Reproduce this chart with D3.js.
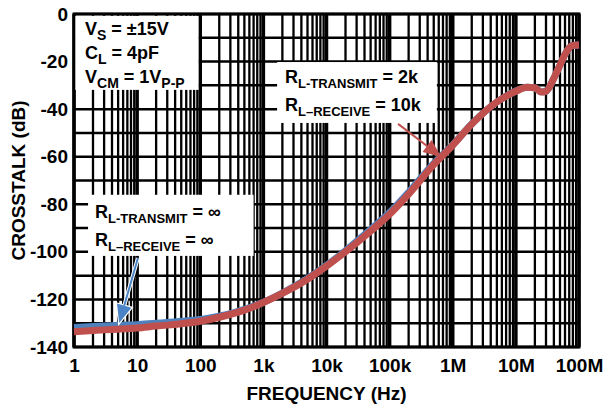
<!DOCTYPE html>
<html>
<head>
<meta charset="utf-8">
<script src="https://cdn.jsdelivr.net/npm/d3@7"></script>
<style>
  html, body { margin: 0; padding: 0; background: #fff; }
  svg { display: block; font-family: "Liberation Sans", Arial, Helvetica, sans-serif; font-weight: bold; }
</style>
</head>
<body>
<svg id="chart" width="603" height="407"></svg>
<script>
// Crosstalk vs. frequency, two load conditions
const freqHz = [1, 2, 3, 5, 10, 20, 30, 50, 100, 200, 300, 500,
  1e3, 2e3, 5e3, 1e4, 2e4, 5e4, 1e5, 2e5, 5e5, 1e6, 2e6, 5e6,
  1e7, 1.5e7, 2e7, 2.5e7, 3e7, 4e7, 5e7, 6e7, 7e7, 8e7, 1e8];

// R_L-TRANSMIT = ∞, R_L-RECEIVE = ∞
const crosstalkOpen = [-131.8, -131.4, -131.2, -130.9, -130.6, -130.0, -129.7, -129.2,
  -128.4, -127.0, -126.0, -124.2, -121.2, -117.3, -111.2, -105.7, -99.5, -90.6,
  -83.5, -75.0, -62.8, -55.0, -46.2, -37.0, -32.4, -30.8, -31.0, -32.7, -32.4,
  -27.0, -21.5, -17.0, -14.2, -13.2, -13.0];

// R_L-TRANSMIT = 2k, R_L-RECEIVE = 10k
const crosstalkLoaded = [-133.6, -133.1, -132.8, -132.5, -132.0, -131.2, -130.8, -130.2,
  -129.2, -127.5, -126.3, -124.5, -121.3, -117.5, -111.5, -106.0, -100.0, -91.3,
  -84.2, -75.7, -63.3, -55.2, -46.3, -37.0, -32.5, -30.8, -31.0, -32.8, -32.5,
  -27.0, -21.5, -17.0, -14.2, -13.2, -13.0];

const xTickValues = [1, 10, 100, 1e3, 1e4, 1e5, 1e6, 1e7, 1e8];
const xTickLabels = ["1", "10", "100", "1k", "10k", "100k", "1M", "10M", "100M"];
const yTickValues = [0, -20, -40, -60, -80, -100, -120, -140];

const svg = d3.select("#chart");
const plot = { left: 74, right: 579, top: 14, bottom: 347 };
const FONT = "Liberation Sans, Arial, sans-serif";

const x = d3.scaleLog().domain([1, 1e8]).range([plot.left, plot.right]);
const y = d3.scaleLinear().domain([-140, 0]).range([plot.bottom, plot.top]);

// vertical grid: 1..9 per decade
const minorX = [];
for (let e = 0; e < 8; e++) for (let m = 2; m <= 9; m++) minorX.push(m * Math.pow(10, e));
const gGrid = svg.append("g");
gGrid.selectAll("line.vminor").data(minorX).join("line")
  .attr("x1", d => x(d)).attr("x2", d => x(d))
  .attr("y1", plot.top).attr("y2", plot.bottom)
  .attr("stroke", "#000").attr("stroke-width", 2.3);
gGrid.selectAll("line.vmajor").data(xTickValues).join("line")
  .attr("x1", d => x(d)).attr("x2", d => x(d))
  .attr("y1", plot.top).attr("y2", plot.bottom)
  .attr("stroke", "#000").attr("stroke-width", 3.5);
gGrid.selectAll("line.h").data(d3.range(-140, 1, 10)).join("line")
  .attr("x1", plot.left).attr("x2", plot.right)
  .attr("y1", d => y(d)).attr("y2", d => y(d))
  .attr("stroke", "#000").attr("stroke-width", 2.5);
gGrid.append("rect")
  .attr("x", plot.left).attr("y", plot.top)
  .attr("width", plot.right - plot.left).attr("height", plot.bottom - plot.top)
  .attr("fill", "none").attr("stroke", "#000").attr("stroke-width", 3);

// axes (labels only, grid drawn above)
const xAxis = d3.axisBottom(x).tickValues(xTickValues)
  .tickFormat((d, i) => xTickLabels[i]).tickSize(0).tickPadding(12);
svg.append("g").attr("transform", `translate(0,${plot.bottom})`).call(xAxis)
  .call(g => g.select(".domain").remove())
  .selectAll("text").attr("font-size", 19).attr("font-weight", "bold")
  .attr("font-family", FONT).attr("fill", "#000");

const yAxis = d3.axisLeft(y).tickValues(yTickValues)
  .tickFormat(d => String(d)).tickSize(0).tickPadding(6);
svg.append("g").attr("transform", `translate(${plot.left},0)`).call(yAxis)
  .call(g => g.select(".domain").remove())
  .selectAll("text").attr("font-size", 19).attr("font-weight", "bold")
  .attr("font-family", FONT).attr("fill", "#000");

svg.append("text").attr("x", (plot.left + plot.right) / 2).attr("y", 400)
  .attr("text-anchor", "middle").attr("font-size", 19).text("FREQUENCY (Hz)");
svg.append("text").attr("transform", `translate(25,${(plot.top + plot.bottom) / 2}) rotate(-90)`)
  .attr("text-anchor", "middle").attr("font-size", 19).text("CROSSTALK (dB)");

// annotation panels (white, covering grid)
function panel(f0, f1, db0, db1) {
  svg.append("rect")
    .attr("x", x(f0)).attr("y", y(db0))
    .attr("width", x(f1) - x(f0)).attr("height", y(db1) - y(db0))
    .attr("fill", "#fff");
}
panel(1.05, 94, -0.8, -31.9);
panel(1650, 560000, -20.2, -45.8);
panel(1.67, 700, -76, -101.7);

// curves
const line = d3.line().x((d, i) => x(freqHz[i])).y(d => y(d)).curve(d3.curveMonotoneX);
svg.append("path").datum(crosstalkOpen).attr("d", line)
  .attr("fill", "none").attr("stroke", "#4f81bd").attr("stroke-width", 7)
  .attr("stroke-linecap", "butt");
svg.append("path").datum(crosstalkLoaded).attr("d", line)
  .attr("fill", "none").attr("stroke", "#c0504d").attr("stroke-width", 7)
  .attr("stroke-linecap", "butt");

// rich text: segments of [text, subscript?]
function rich(px, py, segs, size, subSize) {
  const t = svg.append("text").attr("x", px).attr("y", py).attr("font-size", size).attr("fill", "#000");
  let sub = false;
  segs.forEach(([s, isSub]) => {
    const ts = t.append("tspan").text(s);
    if (isSub && !sub) ts.attr("dy", 5).attr("font-size", subSize);
    else if (isSub) ts.attr("font-size", subSize);
    else if (!isSub && sub) ts.attr("dy", -5);
    sub = isSub;
  });
}
rich(85, 35, [["V", false], ["S", true], [" = ±15V", false]], 18, 14);
rich(85, 59, [["C", false], ["L", true], [" = 4pF", false]], 18, 14);
rich(85, 83, [["V", false], ["CM", true], [" = 1V", false], ["P-P", true]], 18, 14);

rich(285, 83, [["R", false], ["L-TRANSMIT", true], [" = 2k", false]], 18, 13);
rich(285, 111, [["R", false], ["L–RECEIVE", true], [" = 10k", false]], 18, 13);

rich(95, 218, [["R", false], ["L-TRANSMIT", true], [" = ∞", false]], 18, 13);
rich(95, 246, [["R", false], ["L–RECEIVE", true], [" = ∞", false]], 18, 13);

// pointer arrows
function arrow(f0, db0, f1, db1, color, outline) {
  const x0 = x(f0), y0 = y(db0), x1 = x(f1), y1 = y(db1);
  const ang = Math.atan2(y1 - y0, x1 - x0);
  const len = 18, half = 7.5;
  const bx = x1 - len * Math.cos(ang), by = y1 - len * Math.sin(ang);
  const nx = -Math.sin(ang), ny = Math.cos(ang);
  const head = [[x1, y1], [bx + half * nx, by + half * ny], [bx - half * nx, by - half * ny]];
  const g = svg.append("g");
  if (outline) {
    g.append("line").attr("x1", x0).attr("y1", y0).attr("x2", bx).attr("y2", by)
      .attr("stroke", "#fff").attr("stroke-width", 4);
    g.append("polygon").attr("points", head.map(p => p.join(",")).join(" "))
      .attr("fill", "#fff").attr("stroke", "#fff").attr("stroke-width", 2.5);
  }
  g.append("line").attr("x1", x0).attr("y1", y0).attr("x2", bx).attr("y2", by)
    .attr("stroke", color).attr("stroke-width", 2);
  g.append("polygon").attr("points", head.map(p => p.join(",")).join(" "))
    .attr("fill", color);
}
arrow(136000, -46.2, 660000, -60.1, "#c0504d", false);
arrow(10.3, -102.6, 5.2, -129.9, "#4a84c6", true);
</script>
</body>
</html>
